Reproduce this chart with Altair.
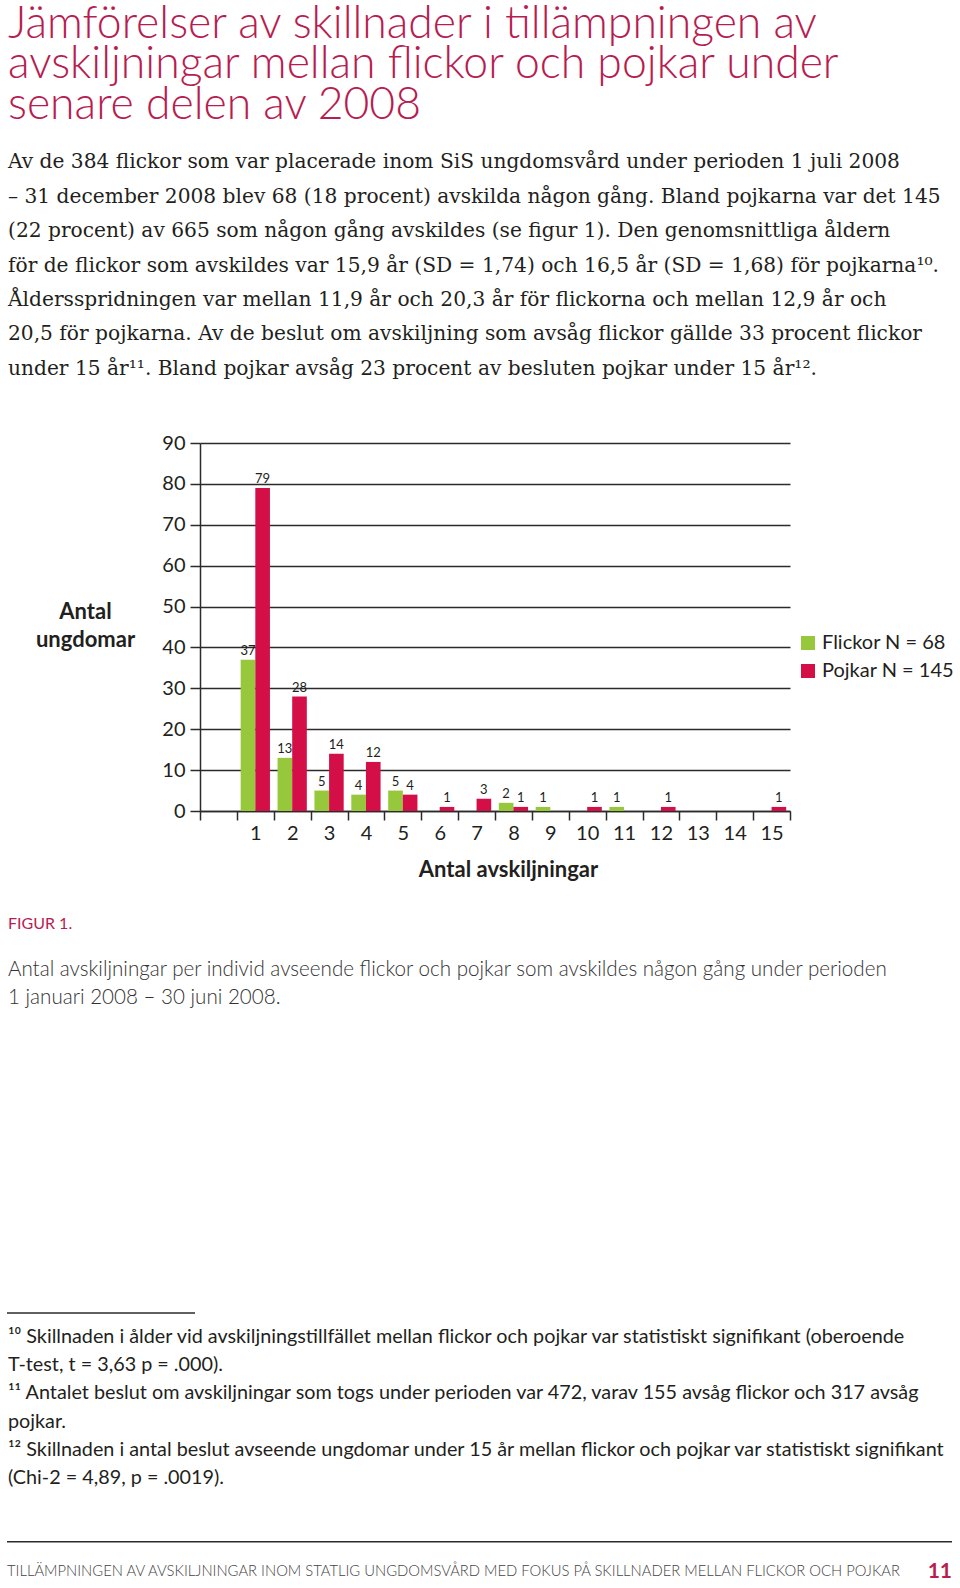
import altair as alt
import pandas as pd

# ---------------- data ----------------
antal = list(range(1, 16))
flickor = [37, 13, 5, 4, 5, 0, 0, 2, 1, 0, 1, 0, 0, 0, 0]
pojkar = [79, 28, 14, 12, 4, 1, 3, 1, 0, 1, 0, 1, 0, 0, 1]
series = ["Flickor N = 68", "Pojkar N = 145"]
y_ticks = [0, 10, 20, 30, 40, 50, 60, 70, 80, 90]
x_domain = [0] + antal

title_lines = [
    "Jämförelser av skillnader i tillämpningen av",
    "avskiljningar mellan flickor och pojkar under",
    "senare delen av 2008",
]
paragraph_lines = [
    "Av de 384 flickor som var placerade inom SiS ungdomsvård under perioden 1 juli 2008",
    "– 31 december 2008 blev 68 (18 procent) avskilda någon gång. Bland pojkarna var det 145",
    "(22 procent) av 665 som någon gång avskildes (se figur 1). Den genomsnittliga åldern",
    "för de flickor som avskildes var 15,9 år (SD = 1,74) och 16,5 år (SD = 1,68) för pojkarna¹⁰.",
    "Åldersspridningen var mellan 11,9 år och 20,3 år för flickorna och mellan 12,9 år och",
    "20,5 för pojkarna. Av de beslut om avskiljning som avsåg flickor gällde 33 procent flickor",
    "under 15 år¹¹. Bland pojkar avsåg 23 procent av besluten pojkar under 15 år¹².",
]
y_title = ["Antal", "ungdomar"]
x_title = "Antal avskiljningar"
caption_label = ["FIGUR 1."]
caption_lines = [
    "Antal avskiljningar per individ avseende flickor och pojkar som avskildes någon gång under perioden",
    "1 januari 2008 – 30 juni 2008.",
]
footnote_lines = [
    "¹⁰ Skillnaden i ålder vid avskiljningstillfället mellan flickor och pojkar var statistiskt signifikant (oberoende",
    "T-test, t = 3,63 p = .000).",
    "¹¹ Antalet beslut om avskiljningar som togs under perioden var 472, varav 155 avsåg flickor och 317 avsåg",
    "pojkar.",
    "¹² Skillnaden i antal beslut avseende ungdomar under 15 år mellan flickor och pojkar var statistiskt signifikant",
    "(Chi-2  = 4,89, p = .0019).",
]
footer_lines = ["TILLÄMPNINGEN AV AVSKILJNINGAR INOM STATLIG UNGDOMSVÅRD MED FOKUS PÅ SKILLNADER MELLAN FLICKOR OCH POJKAR"]
page_number = ["11"]

# ---------------- styles ----------------
GREEN = "#97c83c"
RED = "#d40f48"
CRIMSON = "#b81c50"
INK = "#231f20"
GRID = "#2b2b2b"
SANS = "Lato"
SERIF = "DejaVu Serif"

OX, OY = 200, 443          # plot-area origin on the page
PW, PH = 590, 368          # plot-area size

rows = []
for i, a in enumerate(antal):
    for s, vals in zip(series, [flickor, pojkar]):
        if vals[i] > 0:
            rows.append({"antal": a, "grupp": s, "value": vals[i]})
bars_df = pd.DataFrame(rows)

x_enc = alt.X(
    "antal:O",
    scale=alt.Scale(domain=x_domain, paddingInner=0, paddingOuter=0),
    axis=alt.Axis(
        tickBand="extent", ticks=True, tickSize=9, tickWidth=1.5, tickColor=GRID,
        grid=False, domain=True, domainColor=GRID, domainWidth=1.5,
        labelAngle=0, labelFont=SANS, labelFontSize=20, labelColor=INK, labelPadding=3,
        labelExpr="datum.value == 0 ? '' : datum.label",
        title=x_title, titleFont=SANS, titleFontSize=22, titleFontWeight="bold",
        titleColor=INK, titleX=308, titleY=58, titleAlign="center", titleBaseline="middle",
    ),
)
xoff_enc = alt.XOffset("grupp:N", scale=alt.Scale(domain=series, paddingInner=0, paddingOuter=0.26))
y_enc = alt.Y(
    "value:Q",
    scale=alt.Scale(domain=[0, 90], nice=False),
    axis=alt.Axis(
        values=y_ticks, grid=True, gridColor=GRID, gridWidth=1.5,
        domain=True, domainColor=GRID, domainWidth=1.5,
        ticks=True, tickSize=10, tickWidth=1.5, tickColor=GRID,
        labelFont=SANS, labelFontSize=20, labelColor=INK, labelPadding=5,
        title=y_title, titleAngle=0, titleX=-115, titleY=168.7, titleAlign="center",
        titleBaseline="middle", titleFont=SANS, titleFontSize=22, titleFontWeight="bold",
        titleColor=INK, titleLineHeight=28.3,
    ),
)

bars = alt.Chart(bars_df).mark_bar().encode(
    x=x_enc,
    xOffset=xoff_enc,
    y=y_enc,
    color=alt.Color(
        "grupp:N",
        scale=alt.Scale(domain=series, range=[GREEN, RED]),
        legend=alt.Legend(
            orient="none", legendX=598, legendY=190, title=None,
            symbolType="square", symbolSize=196, symbolStrokeWidth=0, symbolOpacity=1,
            labelFont=SANS, labelFontSize=20, labelColor=INK, labelOffset=4,
            rowPadding=8, padding=0,
        ),
    ),
)
labels = alt.Chart(bars_df).mark_text(
    font=SANS, fontSize=13, color=INK, baseline="middle", dy=-9
).encode(x=x_enc, xOffset=xoff_enc, y=y_enc, text="value:Q")

plot = alt.layer(bars, labels)


def text_layer(lines, x0, y0, step, font, size, weight="normal", color=INK, align="left"):
    df = pd.DataFrame({"text": lines})
    df["px"] = x0 - OX
    df["py"] = [y0 + i * step - OY for i in range(len(lines))]
    return alt.Chart(df).mark_text(
        align=align, baseline="alphabetic", font=font, fontSize=size,
        fontWeight=weight, color=color,
    ).encode(
        x=alt.X("px:Q", scale=None, axis=None),
        y=alt.Y("py:Q", scale=None, axis=None),
        text="text:N",
    )


def rule_layer(x1, x2, y):
    df = pd.DataFrame({"x1": [x1 - OX], "x2": [x2 - OX], "y": [y - OY]})
    return alt.Chart(df).mark_rule(color=GRID, strokeWidth=1.5).encode(
        x=alt.X("x1:Q", scale=None, axis=None),
        x2="x2:Q",
        y=alt.Y("y:Q", scale=None, axis=None),
    )


layers = [
    plot,
    text_layer(title_lines, 8, 37.5, 40.5, SANS, 44.5, 300, CRIMSON),
    text_layer(paragraph_lines, 8, 168.3, 34.4, SERIF, 20.2),
    text_layer(caption_label, 8, 929, 0, SANS, 16, "normal", CRIMSON),
    text_layer(caption_lines, 8, 976, 27.5, SANS, 20.6, 300, "#333333"),
    rule_layer(7, 195, 1313),
    text_layer(footnote_lines, 8, 1342.5, 28.35, SANS, 19.8),
    rule_layer(7, 952, 1541.7),
    text_layer(footer_lines, 7, 1576, 0, SANS, 14.8, 300, "#444444"),
    text_layer(page_number, 952, 1578, 0, SANS, 21, "bold", CRIMSON, align="right"),
]

chart = alt.layer(*layers).resolve_scale(x="independent", y="independent").properties(
    width=PW,
    height=PH,
    padding={"left": OX, "top": OY, "right": 960 - OX - PW, "bottom": 1588 - OY - PH},
    autosize=alt.AutoSizeParams(type="none"),
    background="white",
).configure_view(strokeWidth=0)

chart.save("out.html", embed_options={"renderer": "svg", "actions": False})
